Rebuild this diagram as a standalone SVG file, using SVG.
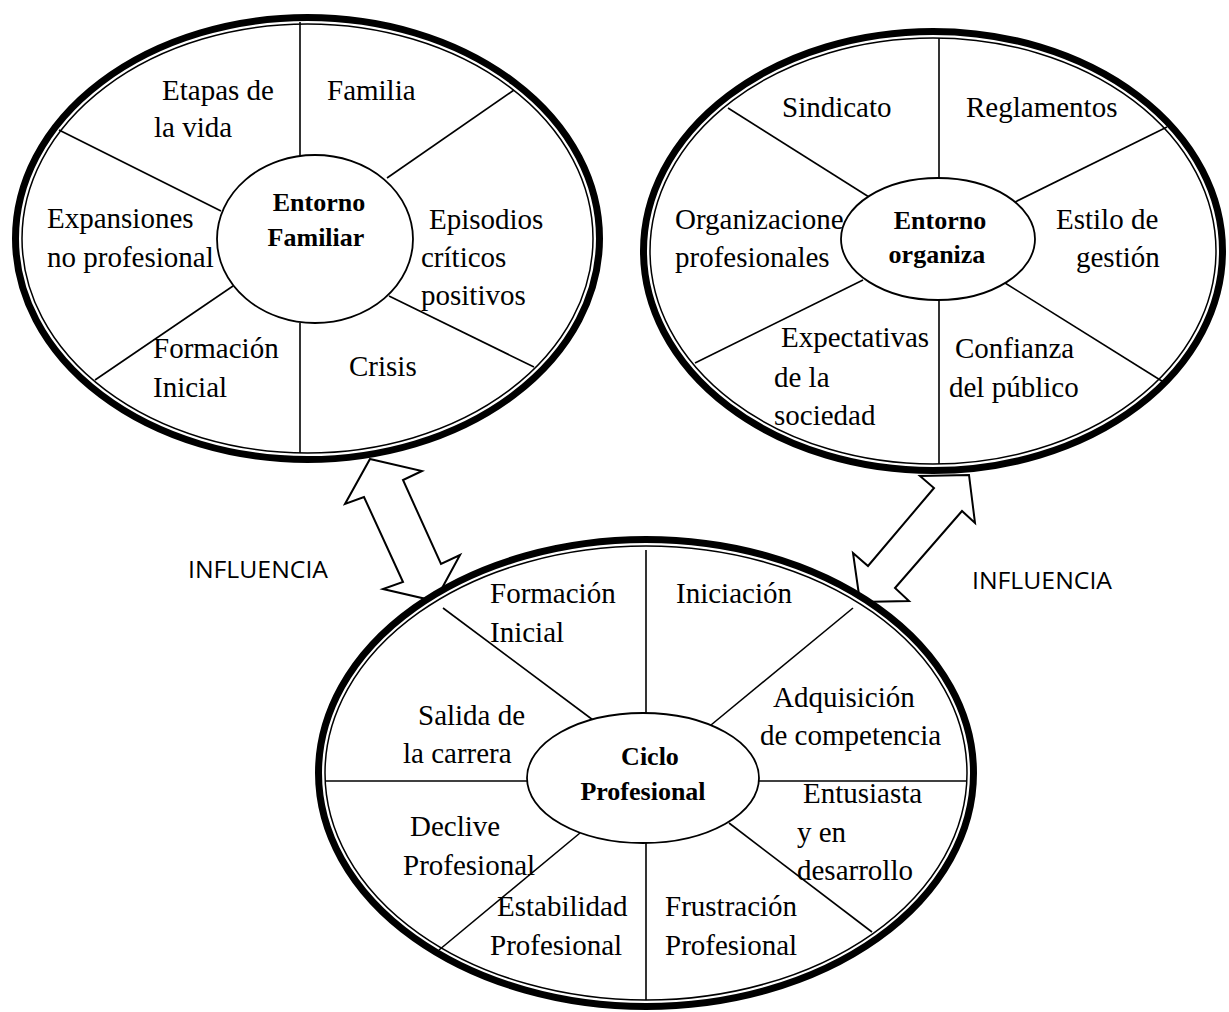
<svg xmlns="http://www.w3.org/2000/svg" width="1229" height="1012" viewBox="0 0 1229 1012">
<style>
.bg{fill:#fff}
.thick{fill:#fff;stroke:#000;stroke-width:7}
.thin{fill:none;stroke:#000;stroke-width:1.5}
.ln{stroke:#000;stroke-width:1.6;fill:none}
.core{fill:#fff;stroke:#000;stroke-width:1.8}
.t{font-family:"Liberation Serif","Times New Roman",serif;font-size:29px;fill:#000}
.b{font-family:"Liberation Serif","Times New Roman",serif;font-size:26px;font-weight:bold;fill:#000;text-anchor:middle}
.inf{font-family:"Open Sans","Liberation Sans",sans-serif;font-size:24px;fill:#000}
.arrow{fill:#fff;stroke:#000;stroke-width:2;stroke-linejoin:miter}
</style>
<rect class="bg" x="0" y="0" width="1229" height="1012"/>
<g id="connectors">
<polygon class="arrow" points="370,459 422,471 403,480 441,564 460,555 435,601 383,589 403,582 364,497 345,504"/>
<polygon class="arrow" points="969,475 975,523 962,511 895,588 909,601 860,602 853,553 868,566 934,488 920,476"/>
<text class="inf" x="188" y="578" textLength="140" lengthAdjust="spacingAndGlyphs">INFLUENCIA</text>
<text class="inf" x="972" y="589" textLength="140" lengthAdjust="spacingAndGlyphs">INFLUENCIA</text>
</g>
<g id="entorno-familiar">
<ellipse class="thick" cx="307.5" cy="238.5" rx="292" ry="221"/>
<ellipse class="thin" cx="307.5" cy="238.5" rx="285.5" ry="214.5"/>
<line class="ln" x1="300" y1="22" x2="300" y2="156"/>
<line class="ln" x1="300" y1="323" x2="300" y2="453"/>
<line class="ln" x1="59" y1="130" x2="221" y2="211"/>
<line class="ln" x1="95" y1="380" x2="233" y2="286"/>
<line class="ln" x1="387" y1="178" x2="514" y2="90"/>
<line class="ln" x1="389" y1="296" x2="534" y2="367"/>
<ellipse class="core" cx="315" cy="239" rx="98" ry="84"/>
<text class="b" x="319" y="211">Entorno</text>
<text class="b" x="316" y="246">Familiar</text>
<text class="t" x="162" y="100">Etapas de</text>
<text class="t" x="154" y="137">la vida</text>
<text class="t" x="327" y="100">Familia</text>
<text class="t" x="47" y="228">Expansiones</text>
<text class="t" x="47" y="267">no profesional</text>
<text class="t" x="429" y="229">Episodios</text>
<text class="t" x="421" y="267">críticos</text>
<text class="t" x="421" y="305">positivos</text>
<text class="t" x="153" y="358">Formación</text>
<text class="t" x="153" y="397">Inicial</text>
<text class="t" x="349" y="376">Crisis</text>
</g>
<g id="entorno-organiza">
<ellipse class="thick" cx="933" cy="251" rx="289.5" ry="219.5"/>
<ellipse class="thin" cx="933" cy="251" rx="283" ry="213"/>
<line class="ln" x1="939" y1="38" x2="939" y2="178"/>
<line class="ln" x1="939" y1="300" x2="939" y2="464"/>
<line class="ln" x1="728" y1="108" x2="869" y2="197"/>
<line class="ln" x1="695" y1="363" x2="863" y2="280"/>
<line class="ln" x1="1015" y1="202" x2="1167" y2="127"/>
<line class="ln" x1="1005" y1="283" x2="1165" y2="383"/>
<text class="t" x="675" y="229">Organizacione</text>
<ellipse class="core" cx="938" cy="239" rx="97" ry="61"/>
<text class="b" x="940" y="229">Entorno</text>
<text class="b" x="937" y="263">organiza</text>
<text class="t" x="782" y="117">Sindicato</text>
<text class="t" x="966" y="117">Reglamentos</text>
<text class="t" x="675" y="267">profesionales</text>
<text class="t" x="1056" y="229">Estilo de</text>
<text class="t" x="1076" y="267">gestión</text>
<text class="t" x="781" y="347">Expectativas</text>
<text class="t" x="774" y="387">de la</text>
<text class="t" x="774" y="425">sociedad</text>
<text class="t" x="955" y="358">Confianza</text>
<text class="t" x="949" y="397">del público</text>
</g>
<g id="ciclo-profesional">
<ellipse class="thick" cx="646" cy="773" rx="327.5" ry="233.5"/>
<ellipse class="thin" cx="646" cy="773" rx="321" ry="227"/>
<line class="ln" x1="646" y1="550" x2="646" y2="713"/>
<line class="ln" x1="646" y1="843" x2="646" y2="1000"/>
<line class="ln" x1="325" y1="781" x2="527" y2="781"/>
<line class="ln" x1="759" y1="781" x2="967" y2="781"/>
<line class="ln" x1="443" y1="608" x2="593" y2="720"/>
<line class="ln" x1="853" y1="608" x2="711" y2="725"/>
<line class="ln" x1="580" y1="833" x2="439" y2="950"/>
<line class="ln" x1="729" y1="823" x2="872" y2="932"/>
<ellipse class="core" cx="643" cy="778" rx="116" ry="65"/>
<text class="b" x="650" y="765">Ciclo</text>
<text class="b" x="643" y="800">Profesional</text>
<text class="t" x="490" y="603">Formación</text>
<text class="t" x="490" y="642">Inicial</text>
<text class="t" x="676" y="603">Iniciación</text>
<text class="t" x="773" y="707">Adquisición</text>
<text class="t" x="760" y="745">de competencia</text>
<text class="t" x="418" y="725">Salida de</text>
<text class="t" x="403" y="763">la carrera</text>
<text class="t" x="803" y="803">Entusiasta</text>
<text class="t" x="797" y="842">y en</text>
<text class="t" x="797" y="880">desarrollo</text>
<text class="t" x="410" y="836">Declive</text>
<text class="t" x="403" y="875">Profesional</text>
<text class="t" x="497" y="916">Estabilidad</text>
<text class="t" x="490" y="955">Profesional</text>
<text class="t" x="665" y="916">Frustración</text>
<text class="t" x="665" y="955">Profesional</text>
</g>
</svg>
